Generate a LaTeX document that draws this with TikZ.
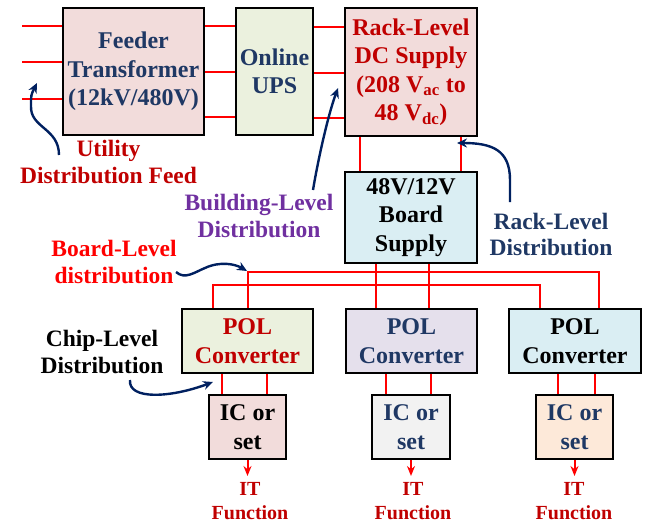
\documentclass[tikz,border=0pt]{standalone}
\usepackage{fontspec}
\setmainfont{Liberation Serif}
\usetikzlibrary{arrows.meta}
\definecolor{navy}{HTML}{1F3864}
\definecolor{navarr}{HTML}{002060}
\definecolor{dred}{HTML}{C00000}
\definecolor{purp}{HTML}{7030A0}
\definecolor{pinkfill}{HTML}{F2DCDB}
\definecolor{greenfill}{HTML}{EBF1DE}
\definecolor{bluefill}{HTML}{DAEEF3}
\definecolor{lavfill}{HTML}{E5E0EC}
\definecolor{grayfill}{HTML}{F2F2F2}
\definecolor{peachfill}{HTML}{FDE9D9}
\begin{document}
\begin{tikzpicture}[x=1pt,y=-1pt,
  box/.style={draw=black, line width=2.2pt, inner sep=0pt, align=center,
    font=\bfseries\fontsize{24}{28.5}\selectfont},
  lbl/.style={inner sep=0pt, align=center, font=\bfseries\fontsize{23.5}{26.5}\selectfont},
  itlbl/.style={inner sep=0pt, align=center, text=dred, font=\bfseries\fontsize{20}{24}\selectfont},
  wire/.style={draw=red, line width=2pt},
  itarrow/.style={draw=red, line width=2pt, -{Stealth[length=10pt,width=8pt]}},
  note/.style={draw=navarr, line width=2.4pt, -{Stealth[length=10pt,width=9pt]}}
]
\useasboundingbox (0,0) rectangle (649,525);

% boxes
\node[box, fill=pinkfill, text=navy, minimum width=141, minimum height=127] (feeder) at (133.5,71.5) {Feeder\\Transformer\\(12kV/480V)};
\node[box, fill=greenfill, text=navy, minimum width=77, minimum height=127] (ups) at (274.5,71.5) {Online\\UPS};
\node[box, fill=pinkfill, text=dred, minimum width=132, minimum height=128] (rack) at (411,72) {Rack-Level\\DC Supply\\(208 V\textsubscript{ac} to\\48 V\textsubscript{dc})};
\node[box, fill=bluefill, text=black, minimum width=132, minimum height=91] (board) at (411,217.5) {48V/12V\\Board\\Supply};
\node[box, fill=greenfill, text=dred, minimum width=131, minimum height=64] (pol1) at (247.5,341) {POL\\Converter};
\node[box, fill=lavfill, text=navy, minimum width=131, minimum height=64] (pol2) at (411.5,341) {POL\\Converter};
\node[box, fill=bluefill, text=black, minimum width=132, minimum height=64] (pol3) at (575,341) {POL\\Converter};
\node[box, fill=pinkfill, text=black, minimum width=77, minimum height=64] (ic1) at (247.5,427) {IC or\\set};
\node[box, fill=grayfill, text=navy, minimum width=78, minimum height=64] (ic2) at (411,427) {IC or\\set};
\node[box, fill=peachfill, text=navy, minimum width=77, minimum height=64] (ic3) at (574.5,427) {IC or\\set};

% IT function labels
\node[itlbl, anchor=north] (it1) at (250,482) {IT\\Function};
\node[itlbl, anchor=north] (it2) at (413,482) {IT\\Function};
\node[itlbl, anchor=north] (it3) at (574,482) {IT\\Function};

% annotation labels
\node[lbl, text=dred] (utility) at (108.5,162) {Utility\\Distribution Feed};
\node[lbl, text=purp] (building) at (259,216) {Building-Level\\Distribution};
\node[lbl, text=navy] (racklbl) at (551,234.5) {Rack-Level\\Distribution};
\node[lbl, text=red] (boardlbl) at (114,262) {Board-Level\\distribution};
\node[lbl, text=black] (chiplbl) at (102,352) {Chip-Level\\Distribution};

% level coordinates
\coordinate (in1) at (22,26);
\coordinate (in2) at (22,62);
\coordinate (in3) at (22,99);
\coordinate (fu1) at (0,26);
\coordinate (fu2) at (0,72);
\coordinate (fu3) at (0,117);
\coordinate (ur1) at (0,27);
\coordinate (ur2) at (0,72.5);
\coordinate (ur3) at (0,118);
\coordinate (busA) at (400,272);
\coordinate (busB) at (400,285);
\coordinate (itlevel) at (0,476);

% wires
\draw[wire] (in1) -- (in1 -| feeder.west);
\draw[wire] (in2) -- (in2 -| feeder.west);
\draw[wire] (in3) -- (in3 -| feeder.west);
\draw[wire] (feeder.east |- fu1) -- (ups.west |- fu1);
\draw[wire] (feeder.east |- fu2) -- (ups.west |- fu2);
\draw[wire] (feeder.east |- fu3) -- (ups.west |- fu3);
\draw[wire] (ups.east |- ur1) -- (rack.west |- ur1);
\draw[wire] (ups.east |- ur2) -- (rack.west |- ur2);
\draw[wire] (ups.east |- ur3) -- (rack.west |- ur3);
\draw[wire] ([xshift=16]rack.south west) -- ([xshift=16]board.north west);
\draw[wire] ([xshift=-17]rack.south east) -- ([xshift=-17]board.north east);
\draw[wire] ([xshift=32]board.south west) -- ([xshift=32]board.south west |- pol2.north);
\draw[wire] ([xshift=-49]board.south east) -- ([xshift=-49]board.south east |- pol2.north);
\draw[wire] (pol1.north) |- (busA) -| ([xshift=24]pol3.north);
\draw[wire] ([xshift=-34.5]pol1.north) |- (busB) -| ([xshift=-35]pol3.north);
\draw[wire] ([xshift=-25.5]ic1.north) -- ([xshift=-25.5]ic1.north |- pol1.south);
\draw[wire] ([xshift=19.5]ic1.north) -- ([xshift=19.5]ic1.north |- pol1.south);
\draw[wire] ([xshift=-25]ic2.north) -- ([xshift=-25]ic2.north |- pol2.south);
\draw[wire] ([xshift=20]ic2.north) -- ([xshift=20]ic2.north |- pol2.south);
\draw[wire] ([xshift=-16.5]ic3.north) -- ([xshift=-16.5]ic3.north |- pol3.south);
\draw[wire] ([xshift=20.5]ic3.north) -- ([xshift=20.5]ic3.north |- pol3.south);

% IT arrows
\draw[itarrow] (ic1.south) -- (ic1.south |- itlevel);
\draw[itarrow] (ic2.south) -- (ic2.south |- itlevel);
\draw[itarrow] (ic3.south) -- (ic3.south |- itlevel);

% annotation arrows
\coordinate (uS) at (59,155);
\coordinate (uT) at (37,83);
\draw[note] (uS) .. controls (59,128) and (30,128) .. (31,106) .. controls (31,95) .. (uT);
\coordinate (bS) at (313,190);
\coordinate (bT) at (338,88);
\draw[note] (bS) .. controls (318,160) and (328,115) .. (bT);
\coordinate (rS) at (510,202);
\coordinate (rT) at (457,143);
\draw[note] (rS) -- (510,180) .. controls (510,150) and (492,143) .. (rT);
\coordinate (dS) at (176,272);
\coordinate (dT) at (247,271);
\draw[note] (dS) .. controls (185,280) and (195,272) .. (205,268) .. controls (220,261) and (235,264) .. (dT);
\coordinate (cS) at (130,380);
\coordinate (cT) at (213,382);
\draw[note] (cS) .. controls (128,400) and (170,398) .. (cT);
\end{tikzpicture}
\end{document}
